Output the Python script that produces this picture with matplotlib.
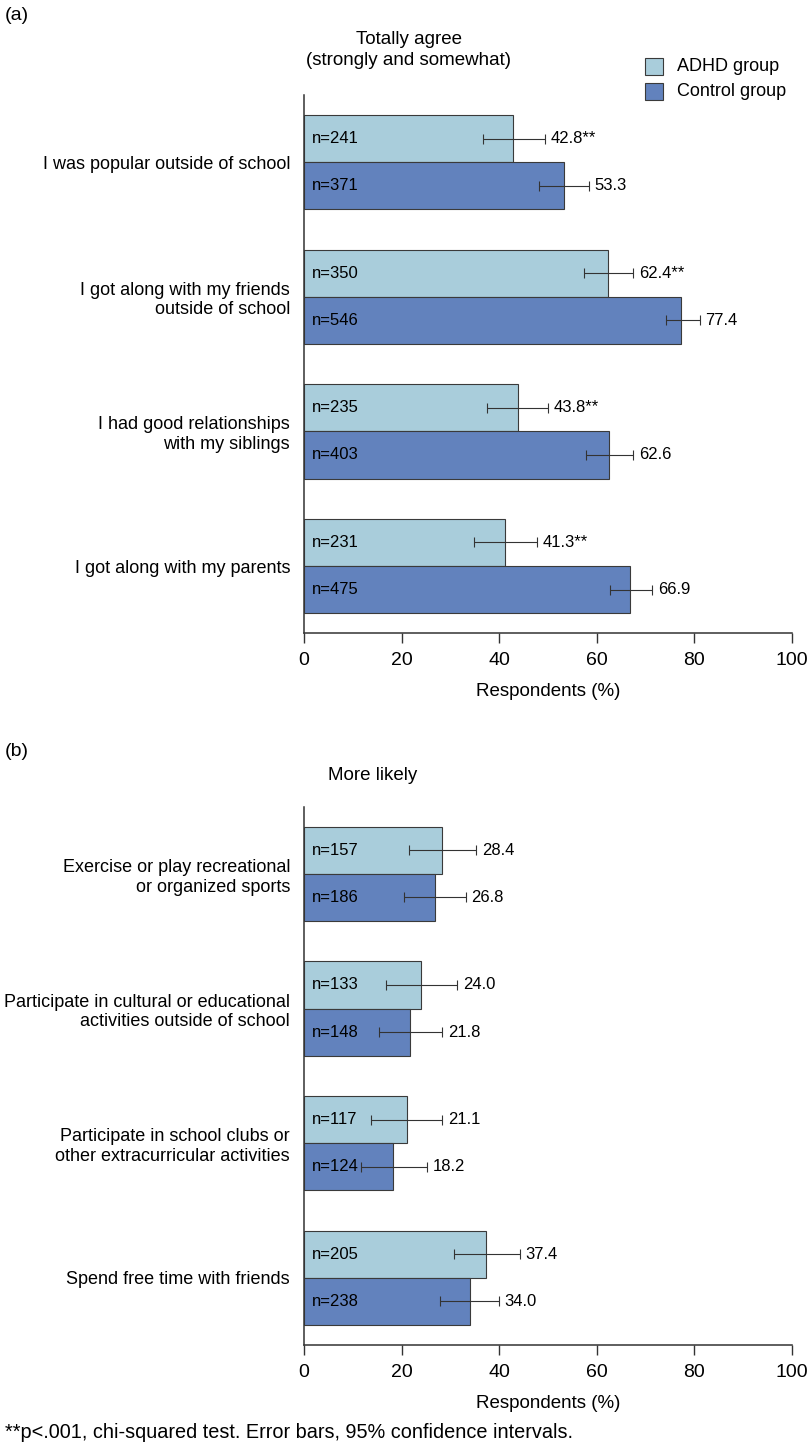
import matplotlib
matplotlib.use("Agg")
import matplotlib.pyplot as plt
from matplotlib.patches import Rectangle
import numpy as np

plt.rcParams['font.family'] = ['Liberation Sans', 'DejaVu Sans']

# Panel (a): totally agree
cats_a = ["I was popular outside of school",
          "I got along with my friends\noutside of school",
          "I had good relationships\nwith my siblings",
          "I got along with my parents"]
adhd_a = [42.8, 62.4, 43.8, 41.3]
adhd_a_lo = [36.8, 57.4, 37.5, 34.9]
adhd_a_hi = [49.4, 67.5, 50.1, 47.7]
adhd_a_n = [241, 350, 235, 231]
ctrl_a = [53.3, 77.4, 62.6, 66.9]
ctrl_a_lo = [48.2, 74.2, 57.8, 62.7]
ctrl_a_hi = [58.4, 81.1, 67.5, 71.4]
ctrl_a_n = [371, 546, 403, 475]
sig_a = ["**", "**", "**", "**"]

# Panel (b): more likely
cats_b = ["Exercise or play recreational\nor organized sports",
          "Participate in cultural or educational\nactivities outside of school",
          "Participate in school clubs or\nother extracurricular activities",
          "Spend free time with friends"]
adhd_b = [28.4, 24.0, 21.1, 37.4]
adhd_b_lo = [21.5, 16.8, 13.7, 30.8]
adhd_b_hi = [35.3, 31.4, 28.4, 44.3]
adhd_b_n = [157, 133, 117, 205]
ctrl_b = [26.8, 21.8, 18.2, 34.0]
ctrl_b_lo = [20.5, 15.4, 11.6, 27.9]
ctrl_b_hi = [33.2, 28.4, 25.2, 40.0]
ctrl_b_n = [186, 148, 124, 238]
sig_b = ["", "", "", ""]

c_adhd = "#a9cddb"
c_ctrl = "#6282bd"
edge = "#3a3a3a"
fs = 13      # category labels, titles
fs_in = 12   # n= and value labels


def draw_panel(ax, cats, adhd, alo, ahi, an, ctrl, clo, chi, cn, sig):
    y = np.arange(len(cats))
    h = 0.35
    series = [(y - h / 2, adhd, alo, ahi, an, c_adhd, sig),
              (y + h / 2, ctrl, clo, chi, cn, c_ctrl, [""] * len(cats))]
    for yy, vals, lo, hi, ns, col, stars in series:
        vals = np.array(vals)
        err = [vals - np.array(lo), np.array(hi) - vals]
        ax.barh(yy, vals, height=h, color=col, edgecolor=edge, linewidth=0.8)
        ax.errorbar(vals, yy, xerr=err, fmt="none", ecolor="#333333",
                    elinewidth=0.8, capsize=3.5, capthick=0.8)
        for i in range(len(vals)):
            ax.annotate("n=%d" % ns[i], (0, yy[i]), xytext=(5.5, 0),
                        textcoords="offset points", va="center", ha="left",
                        fontsize=fs_in)
            ax.annotate("%.1f%s" % (vals[i], stars[i]), (hi[i], yy[i]),
                        xytext=(4, 0), textcoords="offset points",
                        va="center", ha="left", fontsize=fs_in)
    ax.set_yticks(y)
    ax.set_yticklabels(cats, fontsize=fs, ha="right", multialignment="right")
    ax.tick_params(axis="y", length=0, pad=10)
    ax.set_ylim(len(cats) - 0.5, -0.5)
    ax.set_xlim(0, 100)
    ax.set_xticks([0, 20, 40, 60, 80, 100])
    ax.tick_params(axis="x", direction="out", length=7.5, width=1, labelsize=14,
                   pad=6, color="#333333")
    ax.set_xlabel("Respondents (%)", fontsize=13.5, labelpad=10)
    for s in ["top", "right"]:
        ax.spines[s].set_visible(False)
    for s in ["left", "bottom"]:
        ax.spines[s].set_linewidth(1.1)
        ax.spines[s].set_color("#333333")


W, H = 808, 1443
fig = plt.figure(figsize=(W / 100, H / 100), dpi=100)
ax_a = fig.add_axes([0.3762, 0.5611, 0.6036, 0.3731])
ax_b = fig.add_axes([0.3762, 0.0679, 0.6036, 0.3731])

draw_panel(ax_a, cats_a, adhd_a, adhd_a_lo, adhd_a_hi, adhd_a_n,
           ctrl_a, ctrl_a_lo, ctrl_a_hi, ctrl_a_n, sig_a)
draw_panel(ax_b, cats_b, adhd_b, adhd_b_lo, adhd_b_hi, adhd_b_n,
           ctrl_b, ctrl_b_lo, ctrl_b_hi, ctrl_b_n, sig_b)

fig.text(0.006, 1 - 15 / H, "(a)", fontsize=14, va="center", ha="left")
fig.text(0.006, 1 - 752 / H, "(b)", fontsize=14, va="center", ha="left")
fig.text(409 / W, 1 - 50 / H, "Totally agree\n(strongly and somewhat)", fontsize=13.5,
         ha="center", va="center", linespacing=1.3)
fig.text(372.5 / W, 1 - 775 / H, "More likely", fontsize=13.5, ha="center", va="center")
fig.text(0.006, 1 - 1432 / H,
         "**p<.001, chi-squared test. Error bars, 95% confidence intervals.",
         fontsize=14.3, ha="left", va="center")

# legend, drawn as stacked swatches like the original
for lab, col, top, ty in [("ADHD group", c_adhd, 58.3, 66.7),
                          ("Control group", c_ctrl, 82.5, 91.7)]:
    fig.patches.append(Rectangle((645 / W, 1 - (top + 17) / H), 18 / W, 17 / H,
                                 transform=fig.transFigure, facecolor=col,
                                 edgecolor=edge, linewidth=0.8))
    fig.text(677 / W, 1 - ty / H, lab, fontsize=13, ha="left", va="center")

fig.savefig("out.png", dpi=100)
